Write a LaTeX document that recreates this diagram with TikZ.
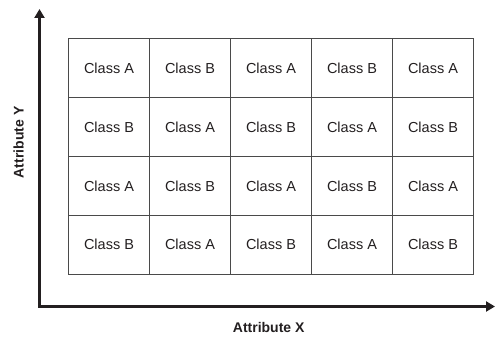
\documentclass[tikz,border=0pt]{standalone}
\usepackage{fontspec}
\setmainfont{Liberation Sans}
\usetikzlibrary{arrows.meta}
\definecolor{ink}{HTML}{231F20}
\definecolor{gridc}{HTML}{4A4A4A}
\begin{document}
\begin{tikzpicture}[x=1pt,y=-1pt,
  cell/.style={draw=gridc,line width=1pt,minimum width=81pt,minimum height=58.75pt,inner sep=0pt,anchor=center,text=ink,font=\fontsize{14.5}{16}\selectfont},
  axis/.style={draw=ink,line width=3pt,-{Triangle[length=9pt,width=10pt]}},
  axlabel/.style={text=ink,font=\fontsize{14}{16}\selectfont\bfseries}]
\useasboundingbox (0,0) rectangle (496,337);
\foreach \r in {0,...,3}{
  \foreach \c in {0,...,4}{
    \pgfmathtruncatemacro{\k}{mod(\r+\c,2)}
    \ifnum\k=0 \def\lab{Class A}\else\def\lab{Class B}\fi
    \node[cell] (c\r\c) at ({68.5+40.5+81*\c},{39+29.375+58.75*\r}) {\lab};
  }
}
\coordinate (o) at (39.5,306.5);
\coordinate (ytop) at (39.5,9);
\coordinate (xend) at (495,306.5);
\draw[axis] ([xshift=0pt]o) -- (ytop);
\draw[axis] ([xshift=-1.5pt]o) -- (xend);
\node[axlabel] (xl) at (268.7,327.5) {Attribute X};
\node[axlabel,rotate=90] (yl) at (18.7,142.4) {Attribute Y};
\end{tikzpicture}
\end{document}
